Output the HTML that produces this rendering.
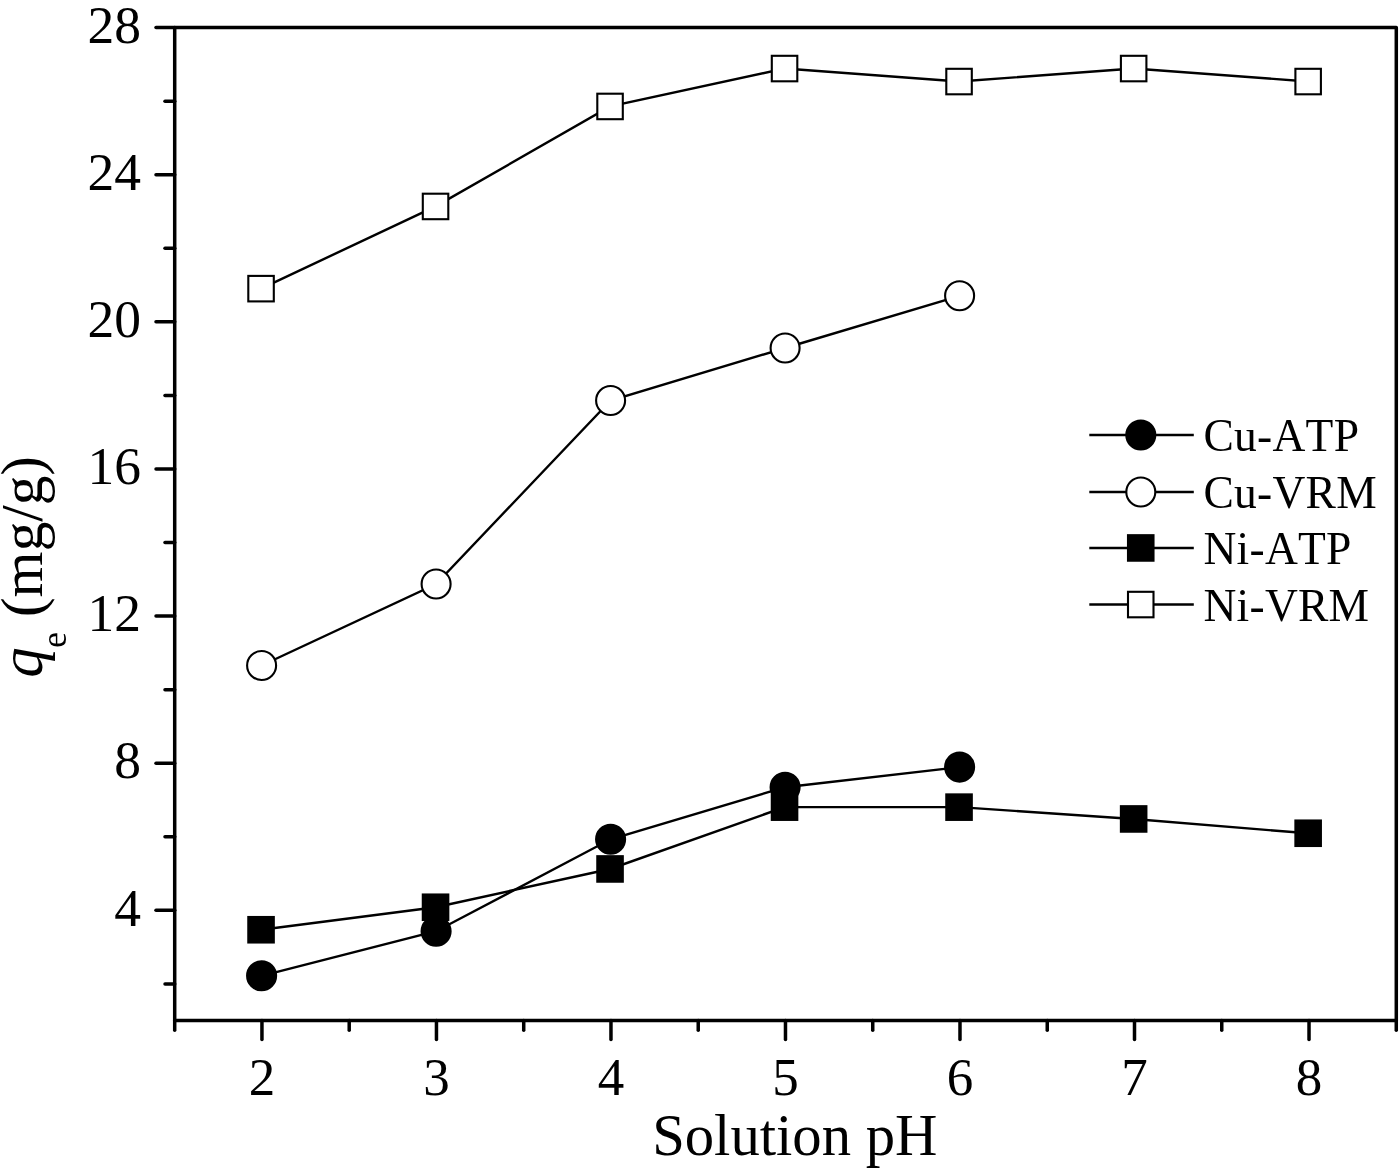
<!DOCTYPE html>
<html lang="en"><head><meta charset="utf-8"><title>Effect of solution pH</title>
<style>html,body{margin:0;padding:0;background:#fff}svg{display:block}text{font-family:"Liberation Serif","Times New Roman",serif;fill:#000;font-kerning:none}</style></head><body>
<svg width="1400" height="1175" viewBox="0 0 1400 1175">
<rect width="1400" height="1175" fill="#fff"/>
<g stroke="#000" stroke-width="3.5" fill="none" stroke-linecap="round" stroke-linejoin="round">
<rect x="174.7" y="27.6" width="1221.6" height="993.0"/>
<line x1="156.0" y1="910.32" x2="174.7" y2="910.32"/>
<line x1="156.0" y1="763.20" x2="174.7" y2="763.20"/>
<line x1="156.0" y1="616.08" x2="174.7" y2="616.08"/>
<line x1="156.0" y1="468.96" x2="174.7" y2="468.96"/>
<line x1="156.0" y1="321.84" x2="174.7" y2="321.84"/>
<line x1="156.0" y1="174.72" x2="174.7" y2="174.72"/>
<line x1="156.0" y1="27.60" x2="174.7" y2="27.60"/>
<line x1="165.0" y1="983.88" x2="174.7" y2="983.88"/>
<line x1="165.0" y1="836.76" x2="174.7" y2="836.76"/>
<line x1="165.0" y1="689.64" x2="174.7" y2="689.64"/>
<line x1="165.0" y1="542.52" x2="174.7" y2="542.52"/>
<line x1="165.0" y1="395.40" x2="174.7" y2="395.40"/>
<line x1="165.0" y1="248.28" x2="174.7" y2="248.28"/>
<line x1="165.0" y1="101.16" x2="174.7" y2="101.16"/>
<line x1="261.95" y1="1020.6" x2="261.95" y2="1039.4"/>
<line x1="436.46" y1="1020.6" x2="436.46" y2="1039.4"/>
<line x1="610.97" y1="1020.6" x2="610.97" y2="1039.4"/>
<line x1="785.48" y1="1020.6" x2="785.48" y2="1039.4"/>
<line x1="959.99" y1="1020.6" x2="959.99" y2="1039.4"/>
<line x1="1134.50" y1="1020.6" x2="1134.50" y2="1039.4"/>
<line x1="1309.02" y1="1020.6" x2="1309.02" y2="1039.4"/>
<line x1="174.70" y1="1020.6" x2="174.70" y2="1030.2"/>
<line x1="349.21" y1="1020.6" x2="349.21" y2="1030.2"/>
<line x1="523.72" y1="1020.6" x2="523.72" y2="1030.2"/>
<line x1="698.23" y1="1020.6" x2="698.23" y2="1030.2"/>
<line x1="872.74" y1="1020.6" x2="872.74" y2="1030.2"/>
<line x1="1047.25" y1="1020.6" x2="1047.25" y2="1030.2"/>
<line x1="1221.76" y1="1020.6" x2="1221.76" y2="1030.2"/>
<line x1="1396.27" y1="1020.6" x2="1396.27" y2="1030.2"/>
</g>
<g font-size="53.5" text-anchor="end">
<text x="141" y="925.52">4</text>
<text x="141" y="778.40">8</text>
<text x="141" y="631.28">12</text>
<text x="141" y="484.16">16</text>
<text x="141" y="337.04">20</text>
<text x="141" y="189.92">24</text>
<text x="141" y="42.80">28</text>
</g>
<g font-size="53" text-anchor="middle">
<text x="261.95" y="1095">2</text>
<text x="436.46" y="1095">3</text>
<text x="610.97" y="1095">4</text>
<text x="785.48" y="1095">5</text>
<text x="959.99" y="1095">6</text>
<text x="1134.50" y="1095">7</text>
<text x="1309.02" y="1095">8</text>
</g>
<text x="794.8" y="1155.4" font-size="58.7" text-anchor="middle">Solution pH</text>
<g transform="rotate(-90)"><text x="-677.85" y="41.6" font-size="61" font-style="italic">q</text><text x="-648.1" y="65.8" font-size="36">e</text><text x="-617.1" y="42" font-size="59.2">(mg/g)</text></g>
<g stroke="#000" stroke-width="2.4" fill="none">
<polyline points="261.1,288.6 435.6,206.4 610.1,106.4 784.6,68.5 959.1,81.5 1133.6,68.5 1308.1,81.5"/>
<polyline points="261.6,665.5 436.1,584.0 610.6,400.5 785.1,348.0 959.6,295.8"/>
<polyline points="261.6,975.8 436.1,931.2 610.6,839.3 785.1,787.2 959.6,767.1"/>
<polyline points="261.1,929.7 435.6,907.2 610.1,869.0 784.6,807.1 959.1,807.1 1133.6,819.0 1308.1,833.3"/>
</g>
<g stroke="#000" stroke-width="2.1">
<rect x="248.3" y="275.9" width="25.5" height="25.5" fill="#fff"/>
<rect x="422.8" y="193.7" width="25.5" height="25.5" fill="#fff"/>
<rect x="597.3" y="93.7" width="25.5" height="25.5" fill="#fff"/>
<rect x="771.8" y="55.8" width="25.5" height="25.5" fill="#fff"/>
<rect x="946.3" y="68.8" width="25.5" height="25.5" fill="#fff"/>
<rect x="1120.9" y="55.8" width="25.5" height="25.5" fill="#fff"/>
<rect x="1295.4" y="68.8" width="25.5" height="25.5" fill="#fff"/>
<circle cx="261.6" cy="665.5" r="14.5" fill="#fff"/>
<circle cx="436.1" cy="584.0" r="14.5" fill="#fff"/>
<circle cx="610.6" cy="400.5" r="14.5" fill="#fff"/>
<circle cx="785.1" cy="348.0" r="14.5" fill="#fff"/>
<circle cx="959.6" cy="295.8" r="14.5" fill="#fff"/>
<circle cx="261.6" cy="975.8" r="14.5" fill="#000"/>
<circle cx="436.1" cy="931.2" r="14.5" fill="#000"/>
<circle cx="610.6" cy="839.3" r="14.5" fill="#000"/>
<circle cx="785.1" cy="787.2" r="14.5" fill="#000"/>
<circle cx="959.6" cy="767.1" r="14.5" fill="#000"/>
<rect x="248.3" y="917.0" width="25.5" height="25.5" fill="#000"/>
<rect x="422.8" y="894.5" width="25.5" height="25.5" fill="#000"/>
<rect x="597.3" y="856.2" width="25.5" height="25.5" fill="#000"/>
<rect x="771.8" y="794.4" width="25.5" height="25.5" fill="#000"/>
<rect x="946.3" y="794.4" width="25.5" height="25.5" fill="#000"/>
<rect x="1120.9" y="806.2" width="25.5" height="25.5" fill="#000"/>
<rect x="1295.4" y="820.5" width="25.5" height="25.5" fill="#000"/>
</g>
<g stroke="#000" stroke-width="2.4">
<line x1="1089.3" y1="435" x2="1193.8" y2="435"/>
<line x1="1089.3" y1="492" x2="1193.8" y2="492"/>
<line x1="1089.3" y1="548" x2="1193.8" y2="548"/>
<line x1="1089.3" y1="604.5" x2="1193.8" y2="604.5"/>
</g><g stroke="#000" stroke-width="2.1">
<circle cx="1140.8" cy="435" r="14.5" fill="#000"/>
<circle cx="1140.8" cy="492" r="14.5" fill="#fff"/>
<rect x="1128.0" y="535.2" width="25.5" height="25.5" fill="#000"/>
<rect x="1128.0" y="591.8" width="25.5" height="25.5" fill="#fff"/>
</g>
<g font-size="45.5" letter-spacing="0.25">
<text x="1203.5" y="451">Cu-ATP</text>
<text x="1203.5" y="508">Cu-VRM</text>
<text x="1203.5" y="564">Ni-ATP</text>
<text x="1203.5" y="620.5">Ni-VRM</text>
</g>
</svg></body></html>
